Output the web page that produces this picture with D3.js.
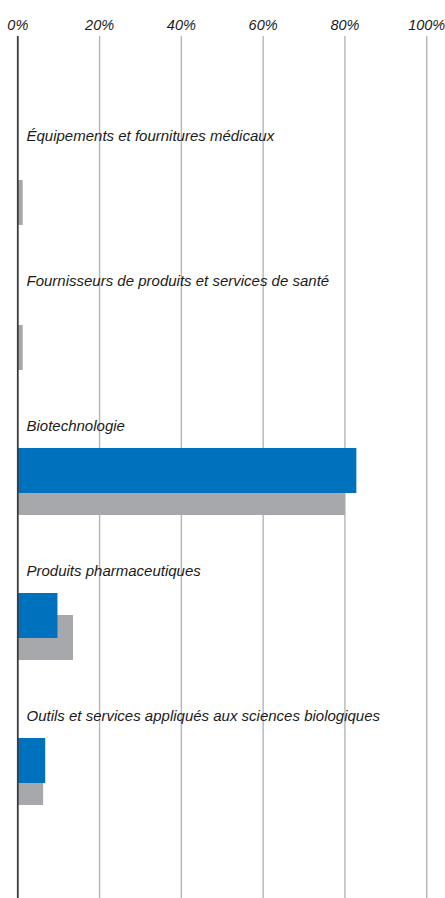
<!DOCTYPE html>
<html><head><meta charset="utf-8">
<script src="https://cdn.jsdelivr.net/npm/d3@7"></script>
<style>
html,body{margin:0;padding:0;background:#fff;}
svg{display:block;}
text{font-family:"Liberation Sans",Arial,sans-serif;font-style:italic;fill:#1a1a1a;}
</style></head>
<body>
<svg id="chart" width="445" height="898"></svg>
<script>
const categories = [
  "Équipements et fournitures médicaux",
  "Fournisseurs de produits et services de santé",
  "Biotechnologie",
  "Produits pharmaceutiques",
  "Outils et services appliqués aux sciences biologiques"
];
const seriesBlue = [0, 0, 82.8, 9.7, 6.7];
const seriesGrey = [1.2, 1.2, 80.0, 13.5, 6.2];
const tickValues = [0, 20, 40, 60, 80, 100];
const tickLabels = ["0%", "20%", "40%", "60%", "80%", "100%"];

const W = 445, H = 898;
const svg = d3.select("#chart");
const x = d3.scaleLinear().domain([0, 100]).range([17.8, 426.7]);
const y = d3.scaleBand().domain(categories).range([113, 113 + 145 * categories.length]).paddingInner(0);

const gridTop = 36;
// gridlines
svg.append("g").selectAll("line").data(tickValues.slice(1)).join("line")
  .attr("x1", d => x(d)).attr("x2", d => x(d))
  .attr("y1", gridTop).attr("y2", H)
  .attr("stroke", "#b4b5b8").attr("stroke-width", 1.4);

// tick labels
svg.append("g").selectAll("text").data(tickValues).join("text")
  .attr("x", d => x(d)).attr("y", 30)
  .attr("text-anchor", "middle")
  .attr("font-size", 14.5)
  .text((d, i) => tickLabels[i]);

// category labels
svg.append("g").selectAll("text").data(categories).join("text")
  .attr("x", 26.5).attr("y", d => y(d) + 27.5)
  .attr("font-size", 15)
  .text(d => d);

// grey bars (behind)
svg.append("g").selectAll("rect").data(categories).join("rect")
  .attr("x", x(0)).attr("y", d => y(d) + 67)
  .attr("width", (d, i) => x(seriesGrey[i]) - x(0))
  .attr("height", 45)
  .attr("fill", "#a7a8ab");

// blue bars
svg.append("g").selectAll("rect").data(categories).join("rect")
  .attr("x", x(0)).attr("y", d => y(d) + 45)
  .attr("width", (d, i) => x(seriesBlue[i]) - x(0))
  .attr("height", 45)
  .attr("fill", "#0071bc");

// zero axis line
svg.append("line")
  .attr("x1", x(0)).attr("x2", x(0))
  .attr("y1", gridTop).attr("y2", H)
  .attr("stroke", "#3c3c3c").attr("stroke-width", 1.8);
</script>
</body></html>
